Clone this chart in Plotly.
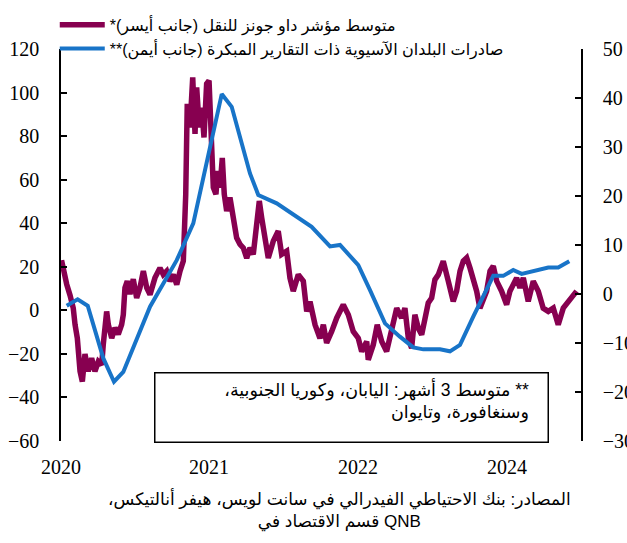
import plotly.graph_objects as go

# ---------------- data ----------------
dj_year = [2020.005, 2020.027, 2020.052, 2020.082, 2020.112, 2020.128, 2020.149, 2020.174, 2020.195, 2020.219,
           2020.249, 2020.280, 2020.310, 2020.341, 2020.372, 2020.386, 2020.417, 2020.432, 2020.463, 2020.493,
           2020.523, 2020.554, 2020.569, 2020.584, 2020.605, 2020.630, 2020.660, 2020.691, 2020.721, 2020.752,
           2020.783, 2020.813, 2020.858, 2020.904, 2020.934, 2020.965, 2020.995, 2021.026, 2021.057, 2021.087,
           2021.117, 2021.139, 2021.153, 2021.178, 2021.203, 2021.224, 2021.239, 2021.263, 2021.285, 2021.306,
           2021.330, 2021.352, 2021.370, 2021.391, 2021.415, 2021.431, 2021.452, 2021.473, 2021.491, 2021.513,
           2021.543, 2021.573, 2021.604, 2021.635, 2021.665, 2021.696, 2021.726, 2021.756, 2021.787, 2021.811,
           2021.833, 2021.863, 2021.893, 2021.939, 2021.984, 2022.015, 2022.061, 2022.091, 2022.121, 2022.167,
           2022.213, 2022.244, 2022.274, 2022.320, 2022.365, 2022.396, 2022.426, 2022.472, 2022.518, 2022.578,
           2022.624, 2022.669, 2022.715, 2022.746, 2022.792, 2022.806, 2022.852, 2022.888, 2022.929, 2022.974,
           2023.020, 2023.066, 2023.111, 2023.141, 2023.172, 2023.202, 2023.232, 2023.263, 2023.294, 2023.324,
           2023.354, 2023.385, 2023.415, 2023.446, 2023.491, 2023.537, 2023.582, 2023.613, 2023.644, 2023.674,
           2023.705, 2023.735, 2023.765, 2023.796, 2023.826, 2023.857, 2023.887, 2023.918, 2023.948, 2023.979,
           2024.024, 2024.070, 2024.100, 2024.161, 2024.191, 2024.222, 2024.267, 2024.313, 2024.359, 2024.404,
           2024.450, 2024.496, 2024.541, 2024.587, 2024.632, 2024.678, 2024.709]
dj_value = [23, 17, 12, 7, 1, -6.5, -12.8, -28, -32.7, -20,
            -28, -22, -28, -23.5, -25, -15.7, -0.5, -6.5, -12.8, -8,
            -11, -6.5, -2, 10.3, 13.4, 7.4, 14.3, 5.7, 10.3, 18,
            10.3, 7.2, 14.9, 19.5, 16.4, 18, 13.4, 16.4, 11.8, 18,
            22.6, 53, 94.8, 84, 107, 81, 102.4, 84, 93, 79.4,
            104, 105.5, 84, 56.4, 53.3, 64, 56.4, 70, 53.3, 45.6,
            51.8, 42.5, 33.3, 30.3, 28.7, 24, 28.7, 25.7, 41, 50.2,
            42.5, 31.8, 24, 31.8, 36.4, 25.7, 27.2, 14.9, 8.8, 16.4,
            13.4, -0.5, 4, -6.6, -12.8, -6.6, -15, -9.7, -3.5, 2.6,
            -2, -9.7, -12.8, -18.9, -14.3, -22.7, -15.8, -6.6, -14.3, -18.9,
            -8.2, 1, -3.5, 1, -12.8, -17.4, -2, -8.2, -11.2, -3.5,
            3.4, 5.7, 14.1, 16.4, 22.6, 13.4, 4.1, 8.8, 18, 22.6,
            24.1, 19.5, 14.9, 8.8, 1, 5.7, 8.8, 18, 20.3, 13.4,
            8.8, 2.6, 8.8, 14.9, 10.3, 14.9, 4.1, 13.4, 8.8, 1,
            -0.5, 1, -6.6, 1, 4.1, 7.2, 8.8]

asia_year = [2020.052, 2020.152, 2020.244, 2020.386, 2020.484, 2020.569, 2020.813, 2021.057, 2021.208, 2021.468,
             2021.559, 2021.726, 2021.802, 2021.970, 2022.289, 2022.457, 2022.548, 2022.715, 2022.822, 2022.959,
             2023.095, 2023.217, 2023.309, 2023.461, 2023.552, 2023.644, 2023.765, 2023.948, 2024.039, 2024.130,
             2024.207, 2024.450, 2024.541, 2024.642]
asia_value = [-2.4, -1.1, -2.4, -13.1, -17.9, -15.9, -2.6, 6.9, 14.4, 40.8,
              38.2, 24.6, 20.2, 18.5, 13.7, 9.7, 10.0, 5.9, 0.8, -6.0,
              -8.7, -10.9, -11.3, -11.3, -11.7, -10.4, -4.6, 3.7, 3.7, 4.9,
              4.1, 5.4, 5.4, 6.7]

x_range = [2020.0, 2024.749]
x_tick_pos = [2020.0, 2021.352, 2022.712, 2024.073]
x_tick_text = ["2020", "2021", "2022", "2024"]
left_range = [-60, 120]
right_range = [-30, 50]

name_dj = "متوسط مؤشر داو جونز للنقل (جانب أيسر)*"
name_asia = "صادرات البلدان الآسيوية ذات التقارير المبكرة (جانب أيمن)**"
note_lines = ["** متوسط 3 أشهر: اليابان، وكوريا الجنوبية،", "وسنغافورة، وتايوان"]
source_lines = ["المصادر: بنك الاحتياطي الفيدرالي في سانت لويس، هيفر أنالتيكس،", "قسم الاقتصاد في QNB"]

# ---------------- style ----------------
RLM = "\u200f"
NBSP = "\u00a0"
PURPLE = "#870050"
BLUE = "#1874C8"
SERIF = "Liberation Serif, Times New Roman, serif"
ARABIC = "Liberation Sans, DejaVu Sans, sans-serif"


def rtl(s):
    return RLM + s + RLM


fig = go.Figure()
fig.add_trace(go.Scatter(x=dj_year, y=dj_value, mode="lines", name=rtl(name_dj),
                         line=dict(color=PURPLE, width=5.5), xaxis="x", yaxis="y"))
fig.add_trace(go.Scatter(x=asia_year, y=asia_value, mode="lines", name=rtl(name_asia),
                         line=dict(color=BLUE, width=4), xaxis="x", yaxis="y2"))

zero_pos = (0 - left_range[0]) / (left_range[1] - left_range[0])

axis_common = dict(showgrid=False, zeroline=False, showline=True, linecolor="black", linewidth=1.5,
                   ticks="inside", ticklen=6, tickwidth=1.5, tickcolor="black",
                   tickfont=dict(family=SERIF, size=20, color="black"))

fig.update_layout(
    width=627, height=543,
    margin=dict(l=61, r=46, t=49, b=102, autoexpand=False),
    plot_bgcolor="white", paper_bgcolor="white",
    showlegend=True,
    legend=dict(x=-0.012, y=1.105, xanchor="left", yanchor="top",
                font=dict(family=ARABIC, size=16, color="black"),
                bgcolor="rgba(0,0,0,0)", tracegroupgap=0, itemwidth=45),
    xaxis=dict(range=x_range, tickvals=x_tick_pos, ticktext=x_tick_text, showline=False,
               ticks="", showgrid=False, zeroline=False, ticklabelstandoff=12,
               tickfont=dict(family=SERIF, size=20, color="black")),
    xaxis2=dict(overlaying="x", anchor="free", position=zero_pos, range=x_range,
                showline=True, linecolor="black", linewidth=1.5, ticks="inside", ticklen=5,
                tickwidth=1.5, tickcolor="black", tickvals=x_tick_pos, showticklabels=False,
                showgrid=False, zeroline=False, layer="below traces"),
    yaxis=dict(range=left_range, dtick=20, tick0=0, ticklabelstandoff=16, **axis_common),
    yaxis2=dict(overlaying="y", side="right", anchor="x", range=right_range, dtick=10, tick0=0,
                ticklabelstandoff=16, **axis_common),
)

fig.add_annotation(
    xref="paper", yref="paper", x=0.5577, y=0.0855, xanchor="center", yanchor="middle",
    text="<br>".join(rtl(s) + NBSP * 3 for s in note_lines), showarrow=False,
    align="right", valign="top",
    width=384, height=60, borderpad=4, bordercolor="black", borderwidth=1.5, bgcolor="white",
    font=dict(family=ARABIC, size=17.5, color="black"))

fig.add_annotation(
    xref="paper", yref="paper", x=0.5365, y=-0.176, xanchor="center", yanchor="middle",
    text="<br>".join(rtl(s) for s in source_lines), showarrow=False, align="center",
    font=dict(family=ARABIC, size=17, color="black"))

fig.write_html("out.html")
